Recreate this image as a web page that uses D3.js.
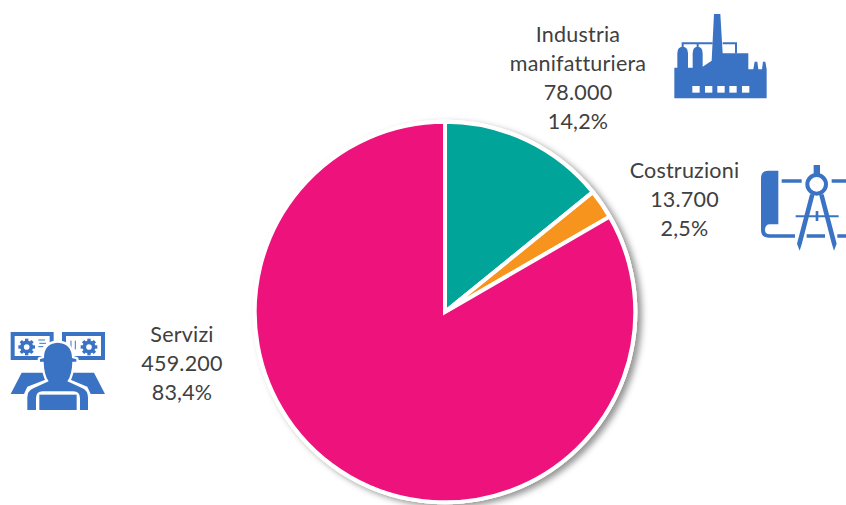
<!DOCTYPE html>
<html>
<head>
<meta charset="utf-8">
<script src="https://cdn.jsdelivr.net/npm/d3@7"></script>
<style>
html,body{margin:0;padding:0;background:#fff;overflow:hidden}
svg{display:block}
text{font-family:Lato,"Open Sans",sans-serif;font-size:21.5px;letter-spacing:0.2px;fill:#404040;text-anchor:middle}
</style>
</head>
<body>
<svg id="chart" width="846" height="505"></svg>
<script>
// Occupati per settore
const sectors = ["Industria manifatturiera", "Costruzioni", "Servizi"];
const employed = [78000, 13700, 459200];
const shareLabels = ["14,2%", "2,5%", "83,4%"];
const valueLabels = ["78.000", "13.700", "459.200"];
const sliceColors = ["#00a499", "#f7941d", "#ed127c"];
const labelLines = [["Industria", "manifatturiera"], ["Costruzioni"], ["Servizi"]];
const labelAnchors = [[578, 35], [684.5, 171], [182, 335]];

const iconBlue = "#3a72c4";
const svg = d3.select("#chart");

const defs = svg.append("defs");
const shadow = defs.append("filter").attr("id", "pieShadow")
  .attr("x", "-10%").attr("y", "-10%").attr("width", "120%").attr("height", "120%");
shadow.append("feDropShadow")
  .attr("dx", 4.5).attr("dy", 3).attr("stdDeviation", 3)
  .attr("flood-color", "#000").attr("flood-opacity", 0.42);

// Torta
const radius = 190.3;
const pie = d3.pie().sort(null).value(d => d);
const arc = d3.arc().innerRadius(0).outerRadius(radius);

const pieGroup = svg.append("g")
  .attr("transform", "translate(445,312)");

pieGroup.append("circle").attr("r", radius + 2).attr("fill", "#fff")
  .attr("filter", "url(#pieShadow)");

pieGroup.selectAll("path.slice")
  .data(pie(employed))
  .join("path")
  .attr("class", "slice")
  .attr("d", arc)
  .attr("fill", (d, i) => sliceColors[i])
  .attr("stroke", "#fff")
  .attr("stroke-width", 4)
  .attr("stroke-linejoin", "miter");

// Etichette: nome, valore assoluto, quota
const labels = svg.append("g");
sectors.forEach((name, i) => {
  const lines = [...labelLines[i], valueLabels[i], shareLabels[i]];
  const [x, y] = labelAnchors[i];
  labels.append("text")
    .selectAll("tspan")
    .data(lines)
    .join("tspan")
    .attr("x", x)
    .attr("y", (d, k) => y + 7 + k * 29)
    .text(d => d);
});

// Pittogramma fabbrica
const factory = svg.append("g")
  .attr("transform", "translate(660,0) scale(0.3333)");
factory.append("path").attr("fill", iconBlue)
  .attr("d", "M43 295V203H52V160Q52 140 68 140Q84 140 84 160V203H98V160Q98 140 113 140Q128 140 128 160V200L155 182L162 42H181L188 160H265V208H280L284 185H292L295 208H306L309 185H316L320 208V295Z");
factory.append("path").attr("fill", "none").attr("stroke", iconBlue).attr("stroke-width", 6)
  .attr("d", "M68 145V130H158M188 130H228V160M113 145V130");
factory.selectAll("rect.win")
  .data([97, 135, 172, 208, 246])
  .join("rect")
  .attr("class", "win")
  .attr("x", d => d).attr("y", 258).attr("width", 22).attr("height", 20)
  .attr("fill", "#fff");

// Pittogramma progetto e compasso
const compass = svg.append("g")
  .attr("transform", "translate(750,155) scale(0.3333)");
compass.append("path").attr("fill", iconBlue)
  .attr("d", "M85 47H55Q33 47 33 70V225Q33 248 55 248H135V238H60Q45 238 45 225Q45 208 60 208H85Z");
compass.append("path").attr("fill", "none").attr("stroke", iconBlue).attr("stroke-width", 11)
  .attr("d", "M95 78H155M245 78H290M170 243H225M262 243H290");
compass.append("path").attr("fill", "none").attr("stroke", iconBlue).attr("stroke-width", 6)
  .attr("d", "M137 184H266");
compass.append("path").attr("fill", "none").attr("stroke", iconBlue).attr("stroke-width", 8)
  .attr("d", "M201 168V198");
compass.append("rect").attr("x", 191).attr("y", 30).attr("width", 19).attr("height", 32).attr("fill", iconBlue);
compass.append("circle").attr("cx", 200).attr("cy", 88).attr("r", 28)
  .attr("fill", "#fff").attr("stroke", iconBlue).attr("stroke-width", 12);
compass.append("path").attr("fill", iconBlue)
  .attr("d", "M180 118H194L156 265L149 287L141 266ZM207 118H221L260 266L252 287L245 265Z");

// Pittogramma operatore ai monitor
const worker = svg.append("g")
  .attr("transform", "translate(0,320) scale(0.3333)");
const gearTeeth = d3.range(8).map(k => k * 45);
[32, 186].forEach(mx => {
  worker.append("rect").attr("x", mx + 6).attr("y", 42).attr("width", 117).attr("height", 72)
    .attr("fill", "#fff").attr("stroke", iconBlue).attr("stroke-width", 12);
  const gear = worker.append("g").attr("transform", `translate(${mx === 32 ? 80 : 267},81)`);
  gear.append("circle").attr("r", 14).attr("fill", "none").attr("stroke", iconBlue).attr("stroke-width", 11);
  gear.selectAll("rect").data(gearTeeth).join("rect")
    .attr("x", -5).attr("y", -25).attr("width", 10).attr("height", 8)
    .attr("fill", iconBlue).attr("transform", d => `rotate(${d})`);
});
worker.append("path").attr("fill", "none").attr("stroke", iconBlue).attr("stroke-width", 3)
  .attr("d", "M115 60H135M118 70H138M115 80H130M213 62V88M226 62V88");
worker.append("path").attr("fill", iconBlue)
  .attr("d", "M65 158H130L140 178L82 200L72 222H32ZM215 158H282L315 222H272L262 200L208 178Z");
const bodyShape = "M82 270V232Q82 212 102 204L146 184Q132 165 131 125H120V118L132 114Q132 70 173 68Q215 70 216 114L229 118V125H217Q216 165 202 184L246 204Q264 212 264 232V270H240V235Q240 214 220 214H128Q108 214 108 235V270Z";
worker.append("path").attr("fill", "#fff").attr("stroke", "#fff").attr("stroke-width", 14)
  .attr("stroke-linejoin", "round").attr("d", bodyShape);
worker.append("path").attr("fill", iconBlue).attr("d", bodyShape);
worker.append("rect").attr("x", 118).attr("y", 224).attr("width", 112).attr("height", 46).attr("fill", iconBlue);
</script>
</body>
</html>
